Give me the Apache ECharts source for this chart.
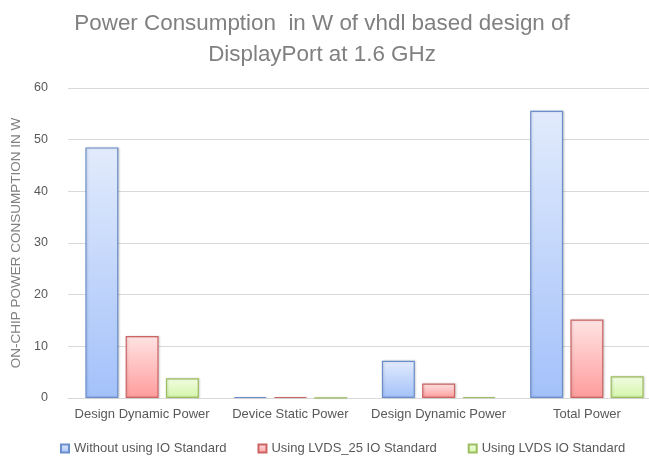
<!DOCTYPE html>
<html>
<head>
<meta charset="utf-8">
<title>Power Consumption</title>
<script src="https://cdn.jsdelivr.net/npm/echarts@6/dist/echarts.min.js"></script>
<style>
  html, body { margin: 0; padding: 0; background: #fff; }
  #chart { width: 649px; height: 456px; }
</style>
</head>
<body>
<div id="chart"></div>
<script>
// data
var categories = ['Design Dynamic Power', 'Device Static Power', 'Design Dynamic Power', 'Total Power'];
var seriesNames = ['Without using IO Standard', 'Using LVDS_25 IO Standard', 'Using LVDS IO Standard'];
var withoutIO = [48.5, 0.2, 7.2, 55.6];
var lvds25 = [12.0, 0.2, 2.8, 15.2];
var lvds = [3.8, 0.02, 0.2, 4.2];
var yTicks = [0, 10, 20, 30, 40, 50, 60];

var font = 'Liberation Sans';

function grad(top, bottom) {
    return new echarts.graphic.LinearGradient(0, 0, 0, 1, [
        { offset: 0, color: top },
        { offset: 1, color: bottom }
    ]);
}

function barSeries(name, data, top, bottom, border) {
    return {
        name: name,
        type: 'bar',
        data: data,
        barWidth: 33,
        barGap: '22%',
        itemStyle: {
            color: grad(top, bottom),
            borderColor: border,
            borderWidth: 1.2,
            shadowColor: 'rgba(0,0,0,0.15)',
            shadowBlur: 2,
            shadowOffsetX: 1
        }
    };
}

var myChart = echarts.init(document.getElementById('chart'));

var option = {
    backgroundColor: '#fff',
    animation: false,
    title: {
        text: 'Power Consumption  in W of vhdl based design of\nDisplayPort at 1.6 GHz',
        left: 317,
        textAlign: 'center',
        top: 3,
        textStyle: {
            fontFamily: font,
            fontSize: 22.4,
            fontWeight: 'normal',
            color: '#808080',
            lineHeight: 31
        }
    },
    legend: {
        data: seriesNames,
        bottom: -4,
        left: 55,
        itemWidth: 8,
        itemHeight: 8,
        itemGap: 31,
        icon: 'rect',
        textStyle: {
            fontFamily: font,
            fontSize: 13,
            color: '#595959'
        }
    },
    grid: {
        left: 68,
        width: 593,
        top: 88,
        bottom: 58,
        outerBoundsMode: 'none',
        containLabel: false
    },
    xAxis: {
        type: 'category',
        data: categories,
        axisTick: { show: false },
        axisLine: { lineStyle: { color: '#d9d9d9' } },
        axisLabel: {
            fontFamily: font,
            fontSize: 13,
            color: '#595959',
            margin: 10,
            interval: 0
        }
    },
    yAxis: {
        type: 'value',
        min: yTicks[0],
        max: yTicks[yTicks.length - 1],
        interval: 10,
        name: 'ON-CHIP POWER CONSUMPTION IN W',
        nameLocation: 'middle',
        nameGap: 38,
        nameRotate: 90,
        nameTextStyle: {
            fontFamily: font,
            fontSize: 13.5,
            color: '#7f7f7f'
        },
        axisLine: { show: false },
        axisTick: { show: false },
        splitLine: { lineStyle: { color: '#d9d9d9' } },
        axisLabel: {
            fontFamily: font,
            fontSize: 12.5,
            color: '#595959',
            margin: 20
        }
    },
    series: [
        barSeries(seriesNames[0], withoutIO, '#e2ebfc', '#a3c1fa', '#6b8fcc'),
        barSeries(seriesNames[1], lvds25, '#ffe3e3', '#ff9c9c', '#cc6464'),
        barSeries(seriesNames[2], lvds, '#f1fde2', '#d5f5aa', '#9dbe5e')
    ]
};

myChart.setOption(option);
</script>
</body>
</html>
